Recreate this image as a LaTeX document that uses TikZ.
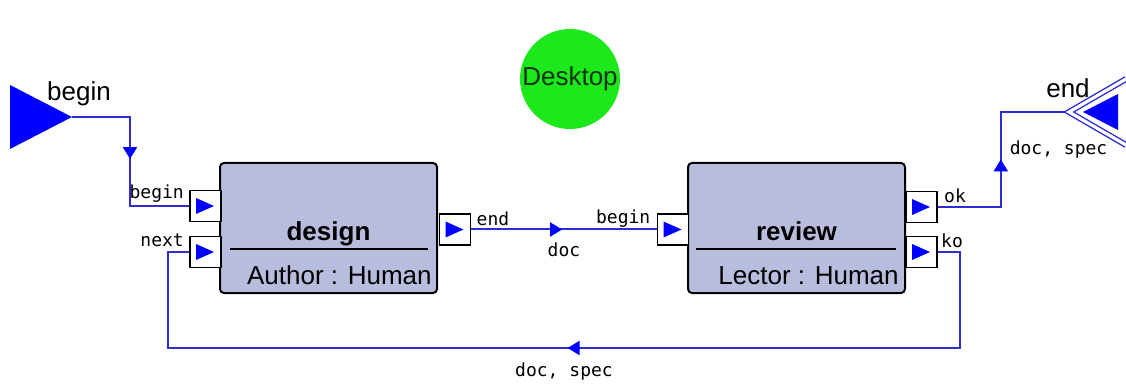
\documentclass[tikz,border=0pt]{standalone}
\usepackage{fontspec}
\setmainfont{Liberation Sans}
\newfontfamily\portfont{DejaVu Sans Mono}
\usepackage{tikz}
\usetikzlibrary{arrows.meta,decorations.markings}
\definecolor{wireblue}{RGB}{45,45,210}
\definecolor{tipblue}{RGB}{0,0,255}
\definecolor{taskfill}{RGB}{184,189,221}
\definecolor{desktopgreen}{RGB}{28,232,28}
\definecolor{deskink}{RGB}{15,50,15}

\tikzset{
  task/.style={draw=black, line width=1pt, fill=taskfill, rounded corners=2pt,
    minimum width=108.5pt, minimum height=65pt, inner sep=0pt},
  tasktitle/.style={font=\fontsize{13}{15}\selectfont\bfseries, inner sep=0pt},
  taskrole/.style={font=\fontsize{13}{15}\selectfont, inner sep=0pt},
  portbox/.style={draw=black, fill=white, line width=0.8pt, minimum size=15.5pt, inner sep=0pt,
    path picture={\fill[tipblue] ([xshift=3pt,yshift=4pt]path picture bounding box.west)
      -- ([xshift=12pt]path picture bounding box.west)
      -- ([xshift=3pt,yshift=-4pt]path picture bounding box.west) -- cycle;}},
  portlbl/.style={font={\portfont\fontsize{9}{10}\selectfont}, inner sep=1pt},
  biglbl/.style={font=\fontsize{13}{15}\selectfont, inner sep=0pt},
  wire/.style={draw=wireblue, line width=1pt},
  midmark/.style={postaction={decorate}, decoration={markings,
    mark=at position #1 with {\arrow[tipblue]{Triangle[length=6pt,width=7pt]}}}},
}

\begin{document}
\begin{tikzpicture}[x=0.5pt, y=-0.5pt]
  \useasboundingbox (0,0) rectangle (1126,385);

  % start / end of the process
  \fill[tipblue] (10,85) -- (72,117) -- (10,149) -- cycle;
  \coordinate (start) at (72,117);
  \node[biglbl] (startlbl) at (79,94) {begin};
  \coordinate (finish) at (1069,112);
  \node[biglbl] (finishlbl) at (1068,88) {end};

  \node[circle, fill=desktopgreen, minimum size=50pt, inner sep=0pt, text=deskink,
    font=\fontsize{13}{15}\selectfont] (desktop) at (570,79) {Desktop};

  % design task
  \node[task] (design) at (328.5,228) {};
  \node[tasktitle, anchor=base] (designname) at ([yshift=-6.5pt]design.center) {design};
  \draw[line width=0.8pt] ([xshift=5.5pt,yshift=-10.5pt]design.west) -- ([xshift=-5pt,yshift=-10.5pt]design.east);
  \node[taskrole, anchor=base east] (designrole) at ([xshift=-3pt,yshift=-28.5pt]design.east) {Author : Human};

  % review task
  \node[task] (review) at (796.5,228) {};
  \node[tasktitle, anchor=base] (reviewname) at ([yshift=-6.5pt]review.center) {review};
  \draw[line width=0.8pt] ([xshift=4.5pt,yshift=-10.5pt]review.west) -- ([xshift=-5pt,yshift=-10.5pt]review.east);
  \node[taskrole, anchor=base east] (reviewrole) at ([xshift=-3.5pt,yshift=-28.5pt]review.east) {Lector : Human};

  % ports
  \node[portbox] (dbegin) at (205.5,206) {};
  \node[portbox] (dnext) at (205.5,252) {};
  \node[portbox] (dend) at (455,229.5) {};
  \node[portbox] (rbegin) at (673,229.5) {};
  \node[portbox] (rok) at (921.5,207) {};
  \node[portbox] (rko) at (921.5,252) {};

  \node[portlbl, anchor=east] (dbeginlbl) at ([xshift=-1.5pt,yshift=6pt]dbegin.west) {begin};
  \node[portlbl, anchor=east] (dnextlbl) at ([xshift=-1.5pt,yshift=6pt]dnext.west) {next};
  \node[portlbl, anchor=west] (dendlbl) at ([xshift=1.5pt,yshift=5.5pt]dend.east) {end};
  \node[portlbl, anchor=east] (rbeginlbl) at ([xshift=-2pt,yshift=5.5pt]rbegin.west) {begin};
  \node[portlbl, anchor=west] (roklbl) at ([xshift=2pt,yshift=5.5pt]rok.east) {ok};
  \node[portlbl, anchor=west] (rkolbl) at ([xshift=0.5pt,yshift=5.5pt]rko.east) {ko};

  % flows
  \draw[wire, midmark=0.485] (start) -- ++(58,0) |- (dbegin.west);
  \draw[wire, midmark=0.49] (dend.east) -- node[portlbl, below=5pt] (doclbl) {doc} (rbegin.west);
  \draw[wire, midmark=0.489] (rok.east) -- ++(63,0) |- node[portlbl, pos=0.3, right=3pt] (oklbl) {doc, spec} (finish);
  \coordinate (loopR) at (960,348);
  \coordinate (loopL) at (168,348);
  \draw[wire, midmark=0.497] (rko.east) -| (loopR) -- node[portlbl, below=6pt] (kolbl) {doc, spec} (loopL) |- (dnext.west);

  % end marker
  \draw[wireblue, line width=0.7pt, double=white, double distance=1.6pt] (1126,79) -- (finish) -- (1126,145);
  \fill[tipblue] (1083,112) -- (1118,94) -- (1118,130) -- cycle;
\end{tikzpicture}
\end{document}
